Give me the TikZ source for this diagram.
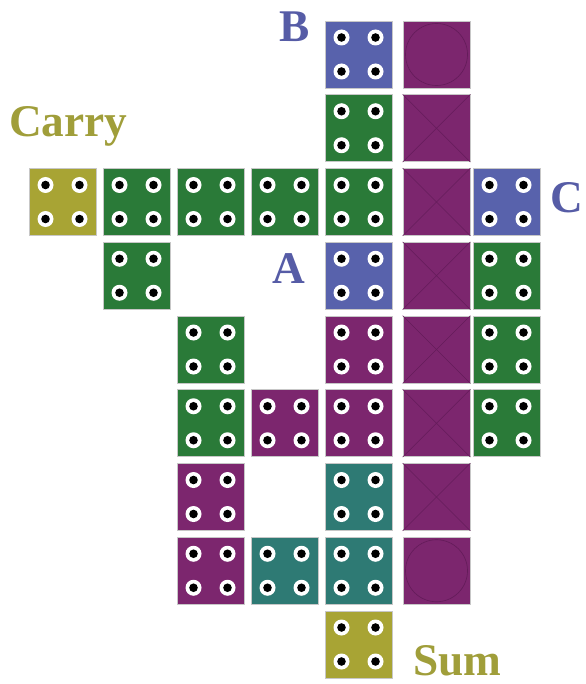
\documentclass[tikz,border=0pt]{standalone}
\usepackage{fontspec}
\setmainfont{Liberation Serif}
\usepackage{tikz}
\usetikzlibrary{positioning}

\begin{document}
\begin{tikzpicture}[x=0.75pt, y=-0.75pt]
      % colours of the cells
      \definecolor{bluecell}{RGB}{88,98,172}
      \definecolor{greencell}{RGB}{42,122,56}
      \definecolor{purplecell}{RGB}{124,38,110}
      \definecolor{tealcell}{RGB}{46,122,116}
      \definecolor{olivecell}{RGB}{168,164,52}
      \definecolor{bluetext}{RGB}{86,92,166}
      \definecolor{olivetext}{RGB}{160,158,58}
      \definecolor{markline}{RGB}{100,28,90}

      % styles
      \tikzstyle{cell} = [rectangle, minimum size=50.25pt, inner sep=0pt, draw=black!22, line width=0.5pt]
      \tikzstyle{crossline} = [draw=markline, line width=0.5pt]
      \tikzstyle{textlabel} = [font=\fontsize{34}{38}\selectfont\bfseries, inner sep=0pt]

      \useasboundingbox (0,0) rectangle (585,684);

      % cells with four holes: column/row/colour/name
      \foreach \c/\r/\col/\nm in {4/0/bluecell/b0, 4/1/greencell/g1,
          0/2/olivecell/carry, 1/2/greencell/g21, 2/2/greencell/g22, 3/2/greencell/g23, 4/2/greencell/g24, 6/2/bluecell/c0,
          1/3/greencell/g31, 4/3/bluecell/a0, 6/3/greencell/g36,
          2/4/greencell/g42, 4/4/purplecell/p44, 6/4/greencell/g46,
          2/5/greencell/g52, 3/5/purplecell/p53, 4/5/purplecell/p54, 6/5/greencell/g56,
          2/6/purplecell/p62, 4/6/tealcell/t64,
          2/7/purplecell/p72, 3/7/tealcell/t73, 4/7/tealcell/t74,
          4/8/olivecell/sum} {
        \node[cell, fill=\col] (\nm) at ({62.5+74*\c},{54.5+73.75*\r}) {};
        \foreach \dx in {-17,17}
          \foreach \dy in {-17,17} {
            \fill[white] (\nm) ++(\dx,\dy) circle (8);
            \fill[black] (\nm) ++(\dx,\dy) circle (4.3);
          }
      }

      % plain cells of the right column
      \foreach \r in {0,...,7}
        \node[cell, fill=purplecell] (q\r) at (436.5,{54.5+73.75*\r}) {};
      \foreach \r in {1,...,6} {
        \draw[crossline] (q\r.north west) -- (q\r.south east);
        \draw[crossline] (q\r.north east) -- (q\r.south west);
      }
      \draw[crossline] (q0.center) circle (31);
      \draw[crossline] (q7.center) circle (31);

      % labels
      \node[textlabel, text=bluetext] (labb) at (295,27) {B};
      \node[textlabel, text=olivetext, anchor=base west] (labcarry) at (9,137) {Carry};
      \node[textlabel, text=bluetext, anchor=base west] (labc) at (550,212) {C};
      \node[textlabel, text=bluetext] (laba) at (289,269) {A};
      \node[textlabel, text=olivetext, anchor=base west] (labsum) at (413,675) {Sum};
    \end{tikzpicture}
\end{document}
